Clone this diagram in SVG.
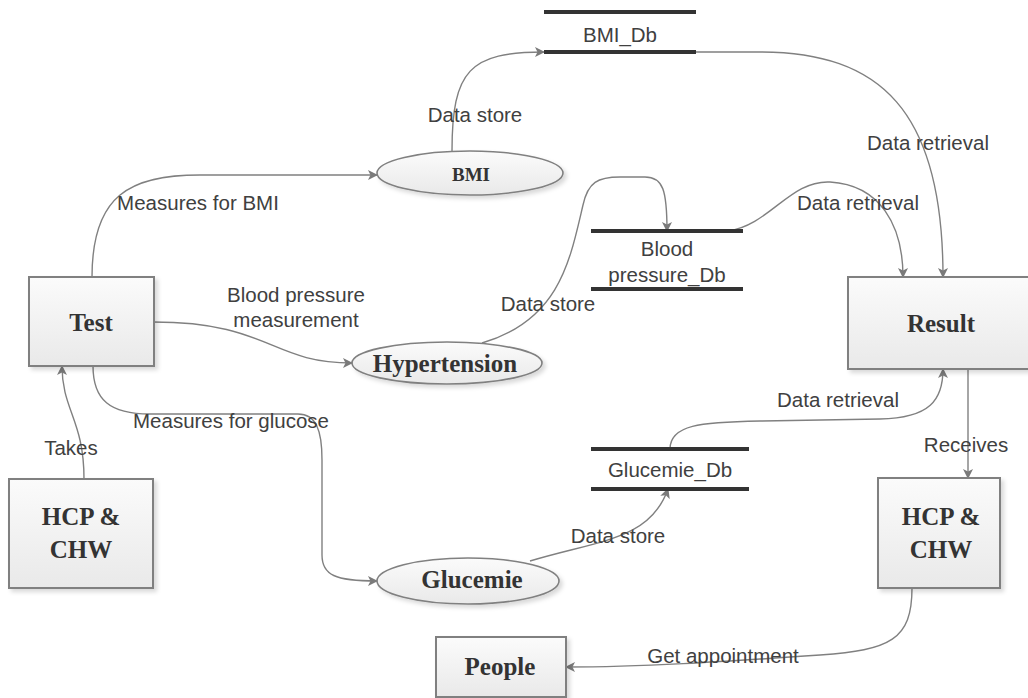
<svg xmlns="http://www.w3.org/2000/svg" width="1028" height="698" viewBox="0 0 1028 698">
  <defs>
    <linearGradient id="boxFill" x1="0" y1="0" x2="0" y2="1">
      <stop offset="0" stop-color="#fbfbfb"/>
      <stop offset="1" stop-color="#e9e9e9"/>
    </linearGradient>
    <filter id="shadow" x="-10%" y="-10%" width="130%" height="130%">
      <feDropShadow dx="3" dy="3" stdDeviation="2" flood-color="#000" flood-opacity="0.15"/>
    </filter>
    <marker id="arrow" viewBox="0 0 10 10" refX="9" refY="5" markerWidth="10" markerHeight="10" markerUnits="userSpaceOnUse" orient="auto">
      <path d="M0,0 L10,5 L0,10 L2.5,5 Z" fill="#7a7a7a"/>
    </marker>
    <style>
      .box { fill: url(#boxFill); stroke: #808080; stroke-width: 2; filter: url(#shadow); }
      .proc { fill: url(#boxFill); stroke: #808080; stroke-width: 1.6; filter: url(#shadow); }
      .store { stroke: #333; stroke-width: 4; }
      .node { font-family: "Liberation Serif", "Times New Roman", serif; font-weight: bold; font-size: 25px; fill: #333; text-anchor: middle; }
      .lbl { font-family: "Liberation Sans", Arial, sans-serif; font-size: 20.5px; fill: #404040; text-anchor: middle; }
      .conn { fill: none; stroke: #808080; stroke-width: 1.4; }
      .arr { marker-end: url(#arrow); }
    </style>
  </defs>

  <!-- connectors -->
  <g id="connectors">
    <path class="conn arr" d="M92,277 C92,195 130,175 200,175 L377,175"/>
    <path class="conn arr" d="M452,151 C452,70 470,52 544,52"/>
    <path class="conn arr" d="M696,52 L760,52 C880,52 943,110 943,277"/>
    <path class="conn arr" d="M153,322 C270,322 270,363 352,363"/>
    <path class="conn arr" d="M482,343 C560,320 570,260 583,205 C588,182 598,177 620,177 L645,177 C663,177 667,190 667,231"/>
    <path class="conn arr" d="M728,231 C770,225 790,180 830,182 C880,185 903,225 903,277"/>
    <path class="conn arr" d="M93,366 C93,400 110,414 150,414 L298,414 C316,414 322,430 322,460 L322,555 C322,575 335,581 377,581"/>
    <path class="conn arr" d="M530,561 C600,540 650,540 668,489"/>
    <path class="conn arr" d="M670,449 C670,425 700,422 760,421 L880,419 C930,418 943,400 943,369"/>
    <path class="conn arr" d="M968,369 L968,478"/>
    <path class="conn arr" d="M912,588 C912,640 890,650 820,655 C720,662 640,667 566,667"/>
    <path class="conn arr" d="M84,479 C84,420 62,410 62,366"/>

    <text class="lbl" x="198" y="210">Measures for BMI</text>
    <text class="lbl" x="475" y="122">Data store</text>
    <text class="lbl" x="928" y="150">Data retrieval</text>
    <text class="lbl" x="296" y="302">Blood pressure</text>
    <text class="lbl" x="296" y="327">measurement</text>
    <text class="lbl" x="548" y="311">Data store</text>
    <text class="lbl" x="858" y="210">Data retrieval</text>
    <text class="lbl" x="231" y="428">Measures for glucose</text>
    <text class="lbl" x="71" y="455">Takes</text>
    <text class="lbl" x="838" y="407">Data retrieval</text>
    <text class="lbl" x="966" y="452">Receives</text>
    <text class="lbl" x="618" y="543">Data store</text>
    <text class="lbl" x="723" y="663">Get appointment</text>
  </g>

  <!-- external entities and processes -->
  <g id="test">
    <rect class="box" x="29" y="277" width="125" height="89"/>
    <text class="node" x="91" y="331">Test</text>
  </g>
  <g id="hcp-left">
    <rect class="box" x="9" y="479" width="144" height="109"/>
    <text class="node" x="81" y="525">HCP &amp;</text>
    <text class="node" x="81" y="558">CHW</text>
  </g>
  <g id="result">
    <rect class="box" x="848" y="277" width="182" height="92"/>
    <text class="node" x="941" y="332">Result</text>
  </g>
  <g id="hcp-right">
    <rect class="box" x="878" y="478" width="122" height="110"/>
    <text class="node" x="941" y="525">HCP &amp;</text>
    <text class="node" x="941" y="558">CHW</text>
  </g>
  <g id="people">
    <rect class="box" x="436" y="637" width="130" height="60"/>
    <text class="node" x="500" y="675">People</text>
  </g>

  <g id="bmi">
    <ellipse class="proc" cx="470" cy="173" rx="93" ry="22"/>
    <text class="node" x="471" y="181" style="font-size:19px">BMI</text>
  </g>
  <g id="hypertension">
    <ellipse class="proc" cx="447" cy="363" rx="95" ry="21"/>
    <text class="node" x="445" y="372">Hypertension</text>
  </g>
  <g id="glucemie">
    <ellipse class="proc" cx="468" cy="581" rx="91" ry="23"/>
    <text class="node" x="472" y="588">Glucemie</text>
  </g>

  <!-- data stores -->
  <g id="bmi-db">
    <line class="store" x1="544" y1="12" x2="696" y2="12"/>
    <line class="store" x1="544" y1="52" x2="696" y2="52"/>
    <text class="lbl" x="620" y="42">BMI_Db</text>
  </g>
  <g id="bp-db">
    <line class="store" x1="591" y1="231" x2="743" y2="231"/>
    <line class="store" x1="591" y1="289" x2="743" y2="289"/>
    <text class="lbl" x="667" y="256">Blood</text>
    <text class="lbl" x="667" y="282">pressure_Db</text>
  </g>
  <g id="glucemie-db">
    <line class="store" x1="591" y1="449" x2="749" y2="449"/>
    <line class="store" x1="591" y1="489" x2="749" y2="489"/>
    <text class="lbl" x="670" y="477">Glucemie_Db</text>
  </g>
</svg>
